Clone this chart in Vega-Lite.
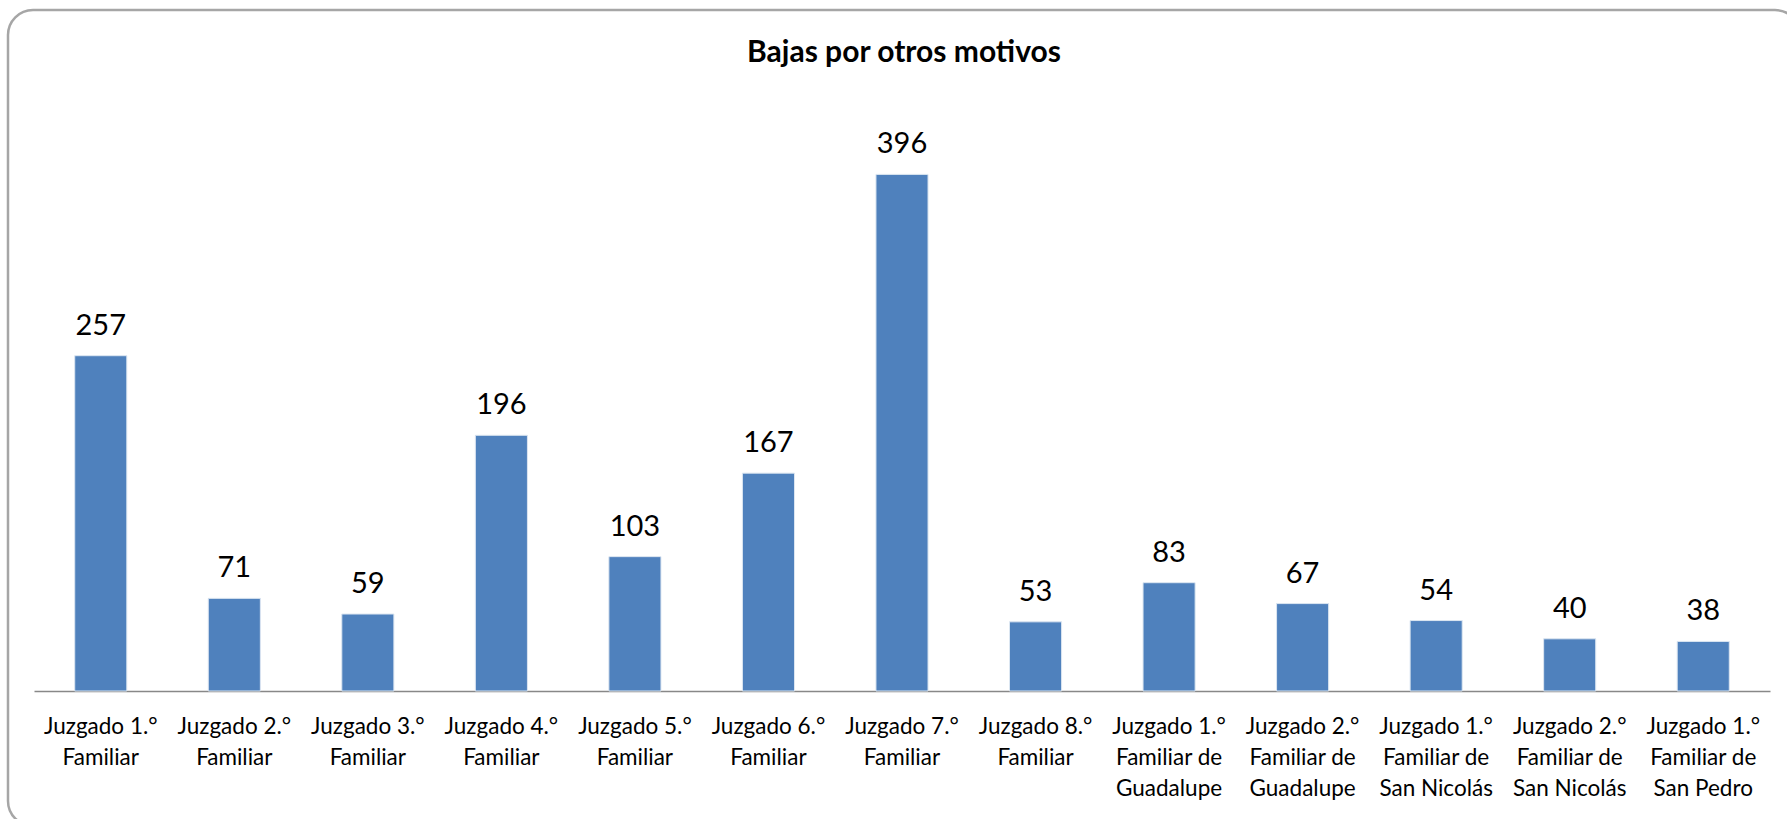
{
  "$schema": "https://vega.github.io/schema/vega-lite/v6.json",
  "autosize": "none",
  "padding": {"left": 8, "top": 10, "right": 0, "bottom": 0},
  "width": 1792,
  "height": 816,
  "background": "white",
  "config": {
    "view": {"stroke": "#a6a6a6", "strokeWidth": 2.5, "cornerRadius": 25},
    "font": "Lato"
  },
  "title": {
    "text": "Bajas por otros motivos",
    "font": "Lato",
    "fontSize": 30,
    "fontWeight": "bold",
    "color": "#000000",
    "anchor": "middle",
    "baseline": "alphabetic",
    "offset": -82
  },
  "data": {
    "values": [
      {"juzgado": "Juzgado 1.°\nFamiliar", "bajas": 257},
      {"juzgado": "Juzgado 2.°\nFamiliar", "bajas": 71},
      {"juzgado": "Juzgado 3.°\nFamiliar", "bajas": 59},
      {"juzgado": "Juzgado 4.°\nFamiliar", "bajas": 196},
      {"juzgado": "Juzgado 5.°\nFamiliar", "bajas": 103},
      {"juzgado": "Juzgado 6.°\nFamiliar", "bajas": 167},
      {"juzgado": "Juzgado 7.°\nFamiliar", "bajas": 396},
      {"juzgado": "Juzgado 8.°\nFamiliar", "bajas": 53},
      {"juzgado": "Juzgado 1.°\nFamiliar de\nGuadalupe", "bajas": 83},
      {"juzgado": "Juzgado 2.°\nFamiliar de\nGuadalupe", "bajas": 67},
      {"juzgado": "Juzgado 1.°\nFamiliar de\nSan Nicolás", "bajas": 54},
      {"juzgado": "Juzgado 2.°\nFamiliar de\nSan Nicolás", "bajas": 40},
      {"juzgado": "Juzgado 1.°\nFamiliar de\nSan Pedro", "bajas": 38}
    ]
  },
  "encoding": {
    "x": {
      "field": "juzgado",
      "type": "nominal",
      "sort": null,
      "scale": {"range": [26, 1762], "paddingInner": 0.61, "paddingOuter": 0.305},
      "axis": {
        "title": null,
        "offset": -135,
        "labelAngle": 0,
        "labelExpr": "split(datum.value, '\\n')",
        "labelFont": "Lato",
        "labelFontSize": 22.5,
        "labelColor": "#000000",
        "labelLineHeight": 31,
        "labelPadding": 24,
        "labelBaseline": "top",
        "ticks": false,
        "domainColor": "#888888",
        "domainWidth": 1.5,
        "grid": false
      }
    },
    "y": {
      "field": "bajas",
      "type": "quantitative",
      "scale": {"domain": [0, 522], "range": [681, 0], "nice": false},
      "axis": null
    }
  },
  "layer": [
    {
      "mark": {"type": "bar", "color": "#4F81BD", "stroke": "#dce6f1", "strokeWidth": 1}
    },
    {
      "mark": {"type": "text", "font": "Lato", "fontSize": 29, "baseline": "alphabetic", "dy": -21, "color": "#000000"},
      "encoding": {"text": {"field": "bajas", "type": "quantitative"}}
    }
  ]
}
